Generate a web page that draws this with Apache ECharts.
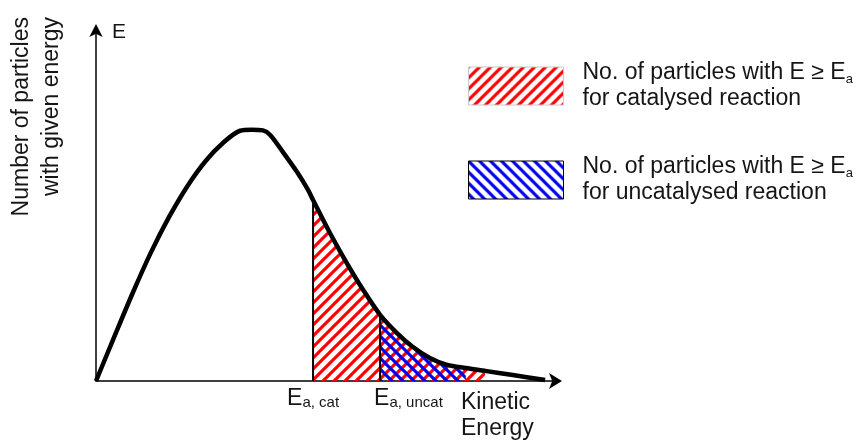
<!DOCTYPE html>
<html>
<head>
<meta charset="utf-8">
<script src="https://cdn.jsdelivr.net/npm/echarts@6/dist/echarts.min.js"></script>
<style>
html,body{margin:0;padding:0;background:#fff;}
#chart{width:861px;height:441px;}
</style>
</head>
<body>
<div id="chart"></div>
<script>
// ---- data ----
var curveX = [0, 4, 8, 12, 16, 20, 24, 28, 31.6, 34.1, 36.6, 38.2, 41.0, 44.1, 46.5, 47.6, 51.3, 55.0, 58.6, 62.3, 66.0, 69.5, 73.2, 77.0, 81.1, 85.3, 91.4, 98.5];
var curveY = [0, 12.6, 25.0, 36.6, 46.8, 55.6, 62.8, 68.2, 71.5, 71.8, 71.6, 70.3, 65.4, 59.7, 54.6, 51.7, 42.3, 33.7, 26.0, 18.9, 13.7, 9.7, 6.6, 4.6, 3.7, 2.9, 1.7, 0.3];
var eaCat = 47.6;
var eaUncat = 62.3;
var catHatchEnd = 85.3;
var uncatHatchEnd = 82.7;
var seriesNames = ['catalysed', 'uncatalysed'];
var legendLines = [
  ['No. of particles with E \u2265 E', 'a', 'for catalysed reaction'],
  ['No. of particles with E \u2265 E', 'a', 'for uncatalysed reaction']
];
var yTitle = 'Number of particles\nwith given energy';
var xTitle = 'Kinetic\nEnergy';
var axisE = 'E';
var catLabel = ['E', 'a, cat'];
var uncatLabel = ['E', 'a, uncat'];

var FONT = '"Liberation Sans", Arial, Helvetica, sans-serif';

function pts(x0, x1) {
  var out = [];
  for (var i = 0; i < curveX.length; i++) {
    if (curveX[i] >= x0 - 1e-9 && curveX[i] <= x1 + 1e-9) out.push([curveX[i], curveY[i]]);
  }
  return out;
}
function yAt(x) {
  for (var i = 0; i < curveX.length; i++) if (Math.abs(curveX[i] - x) < 1e-9) return curveY[i];
  return 0;
}
function stripes(color, dir) {
  var n = 11;
  var c = document.createElement('canvas');
  c.width = n; c.height = n;
  var g = c.getContext('2d');
  g.strokeStyle = color; g.lineWidth = 3.1; g.lineCap = 'square';
  var h = n / 2;
  var segs = dir === '/' ? [[0,n,n,0],[-h,h,h,-h],[h,n+h,n+h,h]] : [[0,0,n,n],[-h,h,h,n+h],[h,-h,n+h,h]];
  segs.forEach(function (s) { g.beginPath(); g.moveTo(s[0], s[1]); g.lineTo(s[2], s[3]); g.stroke(); });
  return c;
}
var redPat = { image: stripes('#ff0000', '/'), repeat: 'repeat' };
var bluePat = { image: stripes('#0000f0', '\\'), repeat: 'repeat' };

var chart = echarts.init(document.getElementById('chart'));
var catPts = pts(eaCat, catHatchEnd);
var uncatPts = pts(eaUncat, uncatHatchEnd);
var curvePts = pts(0, 100);

chart.setOption({
  animation: false,
  backgroundColor: '#fff',
  grid: { left: 96, top: 31, width: 456, height: 350 },
  xAxis: {
    type: 'value', min: 0, max: 100,
    axisLine: { lineStyle: { color: '#000', width: 1.5 }, symbol: ['none', 'arrow'], symbolSize: [12, 13], symbolOffset: [0, 10] },
    axisTick: { show: false }, axisLabel: { show: false }, splitLine: { show: false }
  },
  yAxis: {
    type: 'value', min: 0, max: 100,
    axisLine: { lineStyle: { color: '#000', width: 1.5 }, symbol: ['none', 'arrow'], symbolSize: [10, 13], symbolOffset: [0, 7] },
    axisTick: { show: false }, axisLabel: { show: false }, splitLine: { show: false }
  },
  legend: {
    orient: 'vertical', left: 468, top: 60, padding: 0, itemWidth: 95, itemHeight: 38, itemGap: 42,
    selectedMode: false,
    data: [
      { name: seriesNames[0], icon: 'rect', itemStyle: { color: redPat, borderColor: '#c8c8c8', borderWidth: 1 } },
      { name: seriesNames[1], icon: 'rect', itemStyle: { color: bluePat, borderColor: '#000', borderWidth: 1 } }
    ],
    formatter: function (n) {
      var l = legendLines[seriesNames.indexOf(n)];
      return l[0] + '{s|' + l[1] + '}\n' + l[2];
    },
    textStyle: {
      fontFamily: FONT, fontSize: 23, lineHeight: 26, color: '#151515', padding: [0, 0, 0, 14],
      rich: { s: { fontFamily: FONT, fontSize: 13, lineHeight: 14, verticalAlign: 'bottom', color: '#151515' } }
    }
  },
  series: [
    { name: seriesNames[0], type: 'line', data: catPts, smooth: 0.3, symbol: 'none', lineStyle: { width: 0 }, areaStyle: { color: redPat, opacity: 1 }, z: 2 },
    { name: seriesNames[1], type: 'line', data: uncatPts, smooth: 0.3, symbol: 'none', lineStyle: { width: 0 }, areaStyle: { color: bluePat, opacity: 1 }, z: 3 },
    { name: 'vcat', type: 'line', data: [[eaCat, 0], [eaCat, yAt(eaCat)]], symbol: 'none', lineStyle: { color: '#000', width: 2 }, z: 4 },
    { name: 'vuncat', type: 'line', data: [[eaUncat, 0], [eaUncat, yAt(eaUncat)]], symbol: 'none', lineStyle: { color: '#000', width: 2 }, z: 4 },
    { name: 'curve', type: 'line', data: curvePts, smooth: 0.3, symbol: 'none', lineStyle: { color: '#000', width: 4.5 }, z: 5 }
  ]
});

var pCat = chart.convertToPixel({ gridIndex: 0 }, [eaCat, 0]);
var pUncat = chart.convertToPixel({ gridIndex: 0 }, [eaUncat, 0]);
function subLabel(parts, x) {
  return {
    type: 'text', x: x, y: 384,
    style: {
      text: '{m|' + parts[0] + '}{s|' + parts[1] + '}',
      verticalAlign: 'top', align: 'left',
      rich: {
        m: { fontFamily: FONT, fontSize: 23, lineHeight: 26, fill: '#151515', verticalAlign: 'bottom' },
        s: { fontFamily: FONT, fontSize: 15, lineHeight: 18, fill: '#151515', verticalAlign: 'bottom' }
      }
    }
  };
}
chart.setOption({
  graphic: [
    { type: 'text', x: 37, y: 17, rotation: Math.PI / 2,
      style: { text: yTitle, fontFamily: FONT, fontSize: 23, lineHeight: 30, fill: '#151515', align: 'right', verticalAlign: 'middle' } },
    { type: 'text', x: 112, y: 32,
      style: { text: axisE, fontFamily: FONT, fontSize: 21, fill: '#151515', align: 'left', verticalAlign: 'middle' } },
    subLabel(catLabel, pCat[0] - 26),
    subLabel(uncatLabel, pUncat[0] - 6),
    { type: 'text', x: 461, y: 390,
      style: { text: xTitle, fontFamily: FONT, fontSize: 23, lineHeight: 26, fill: '#151515', align: 'left', verticalAlign: 'top' } }
  ]
});
</script>
</body>
</html>
